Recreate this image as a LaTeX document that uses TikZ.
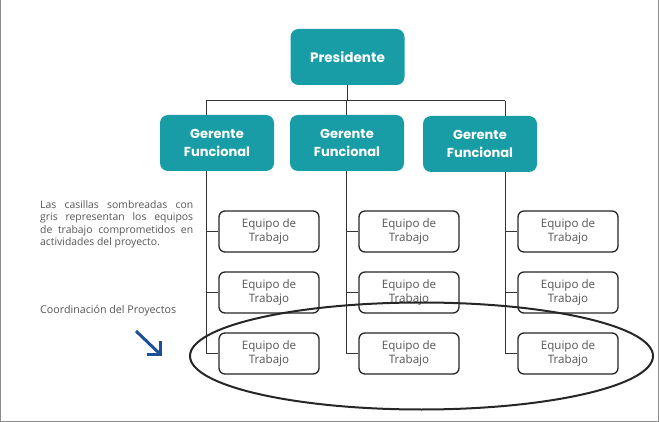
\documentclass[tikz,border=0pt]{standalone}
\usepackage{fontspec}
\setmainfont{Open Sans}
\newfontfamily\headfont{Poppins}
\usetikzlibrary{shapes,arrows.meta,calc,positioning,backgrounds}

\definecolor{teal}{RGB}{24,156,166}
\definecolor{txtgray}{RGB}{85,85,85}
\definecolor{arrowblue}{RGB}{28,80,150}

\tikzset{
	boss/.style={draw=none,fill=teal,rounded corners=8pt,minimum width=114pt,minimum height=56pt,
		text=white,align=center,font=\headfont\bfseries\fontsize{13}{18}\selectfont},
	team/.style={draw=black!85,line width=1.3pt,fill=white,rounded corners=6pt,minimum width=100pt,
		minimum height=41pt,text=txtgray,align=center,font=\fontsize{11.6}{14}\selectfont},
	tree/.style={draw=black!80,line width=1pt}
}

\begin{document}
\begin{tikzpicture}[x=1pt,y=-1pt]
	\useasboundingbox (0,0) rectangle (659,422);
	\draw[black!45,line width=1pt] (0.5,0) -- (0.5,421.5) -- (658.5,421.5) -- (658.5,0);

	\node[boss,font=\headfont\bfseries\fontsize{13.6}{18}\selectfont]	(pres)	at (347.5,57)	{Presidente};
	\node[boss]	(g1)	at (217,143)	{Gerente\\Funcional};
	\node[boss]	(g2)	at (347,143)	{Gerente\\Funcional};
	\node[boss]	(g3)	at (480,144)	{Gerente\\Funcional};

	\foreach \c/\x in {1/269,2/409,3/568}{
		\node[team]	(e\c1)	at (\x,231.5)	{Equipo de\\Trabajo};
		\node[team]	(e\c2)	at (\x,292.5)	{Equipo de\\Trabajo};
		\node[team]	(e\c3)	at (\x,353.5)	{Equipo de\\Trabajo};
	}

	\begin{scope}[on background layer]
		\coordinate (bus) at (0,101);
		\coordinate (t1) at ($(e11.west |- bus)+(-12,0)$);
		\coordinate (t2) at ($(e21.west |- bus)+(-12,0)$);
		\coordinate (t3) at ($(e31.west |- bus)+(-12,0)$);
		\draw[tree] (pres.south) -- (pres.south |- bus);
		\draw[tree] (t1) -- (t3);
		\foreach \c in {1,2,3}{
			\draw[tree] (t\c) |- (e\c3.west);
			\draw[tree] (t\c |- e\c1.west) -- (e\c1.west);
			\draw[tree] (t\c |- e\c2.west) -- (e\c2.west);
		}
	\end{scope}

	% nota
	\node[anchor=north west,text width=153pt,align=justify,text=txtgray,inner sep=0pt,
		font=\fontsize{10.4}{12.3}\selectfont] (note) at (40,200.5)
		{\hyphenpenalty=10000 Las casillas sombreadas con\linebreak gris representan los equipos\linebreak de trabajo comprometidos en\linebreak actividades del proyecto.};
	\node[anchor=west,text=txtgray,inner sep=0pt,font=\fontsize{10.7}{12}\selectfont] (coord) at (40,311)
		{Coordinación del Proyectos};

	\coordinate (a0) at (136,331);
	\coordinate (a1) at (160,354);
	\draw[arrowblue,line width=3pt] (a0) -- (a1);
	\draw[arrowblue,line width=3pt] ($(a1)+(0,-13)$) -- (a1) -- ($(a1)+(-13,0)$);

	\node[draw=black!85,line width=2pt,ellipse,minimum width=463pt,minimum height=107pt] (group) at (421.5,356) {};
\end{tikzpicture}
\end{document}
